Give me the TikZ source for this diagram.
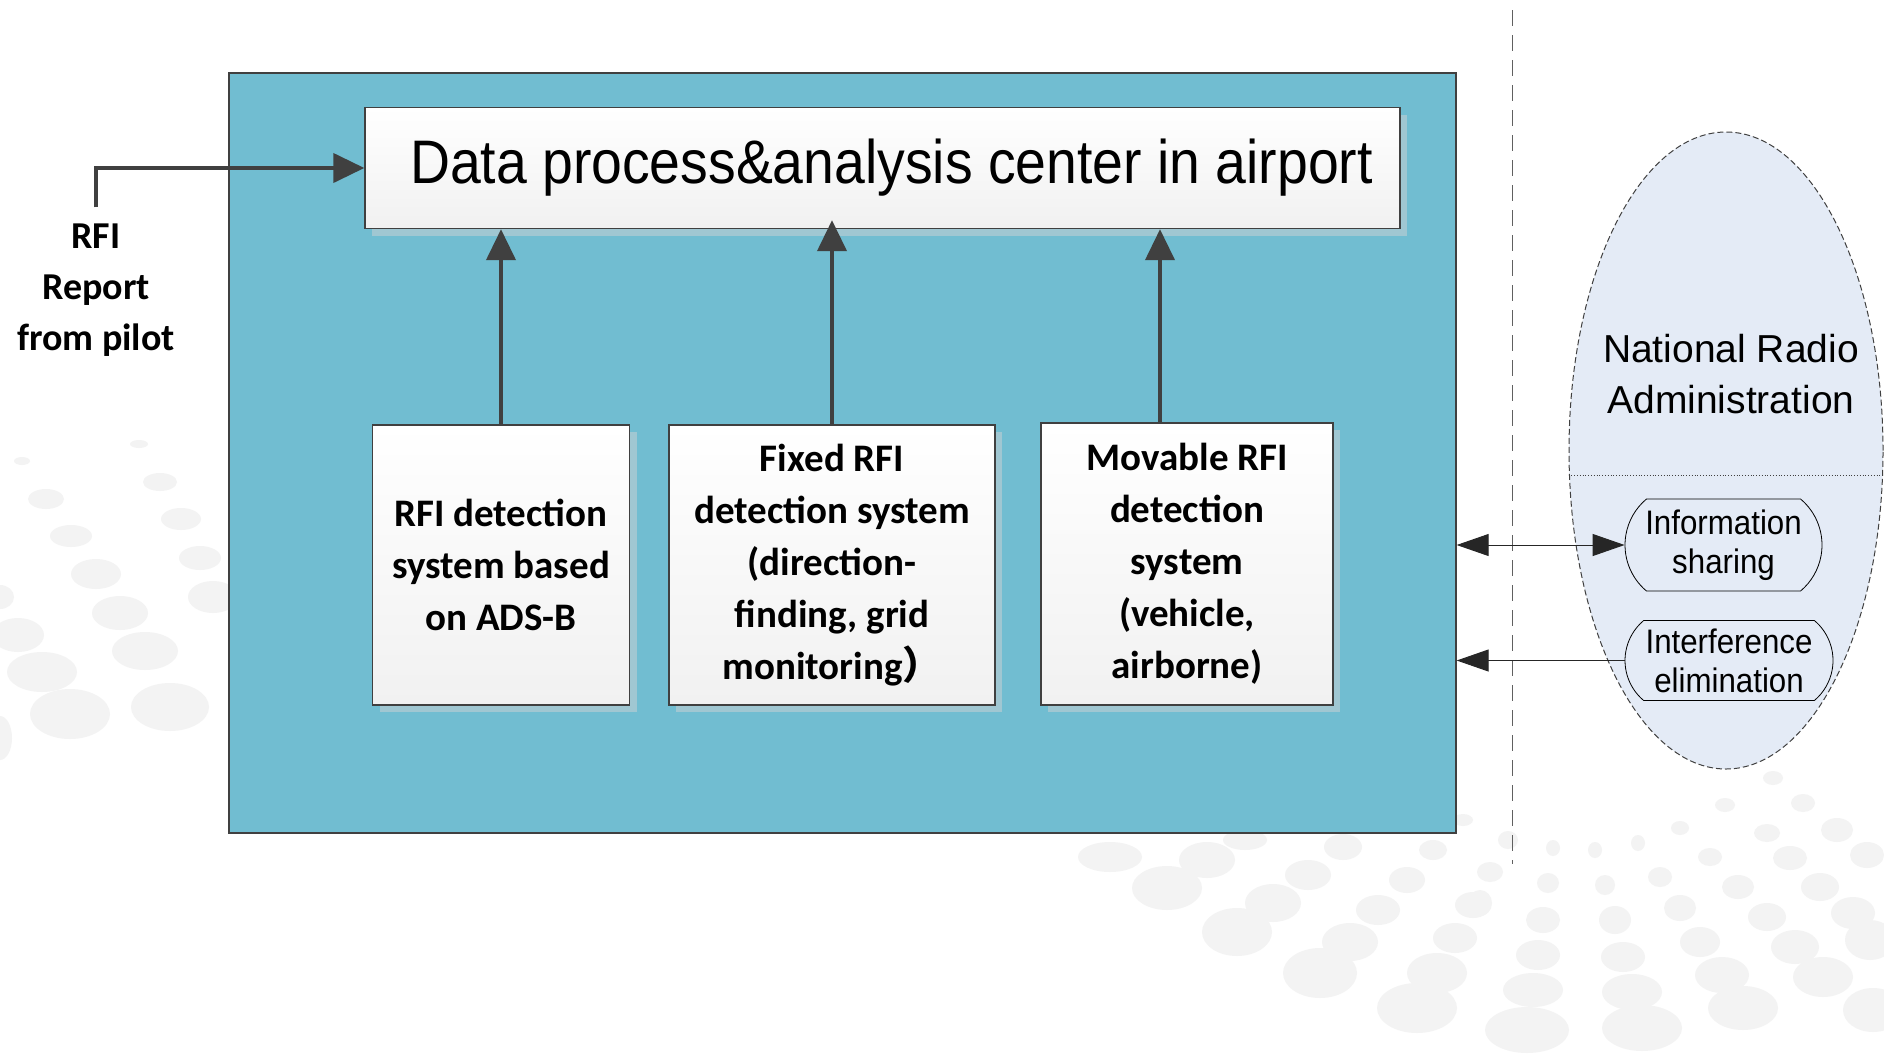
\documentclass[tikz,border=0pt]{standalone}
\usepackage{fontspec}
\setmainfont{Carlito}
\newfontfamily\arialfont{Liberation Sans}
\newfontfamily\narrowfont[FakeStretch=0.9]{Liberation Sans}
\newfontfamily\smallarial[FakeStretch=0.92]{Liberation Sans}
\newfontfamily\cjk{Noto Sans CJK SC}
\usetikzlibrary{shapes.geometric,shapes.misc,shadows,arrows.meta}

\definecolor{panelColor}{RGB}{113,189,209}
\definecolor{shadowColor}{RGB}{160,199,210}
\definecolor{lineColor}{RGB}{64,64,64}
\definecolor{nraColor}{RGB}{228,235,246}
\definecolor{dotColor}{RGB}{243,243,243}

\tikzset{
  sysbox/.style={rectangle,draw=lineColor,line width=1.3pt,top color=white,bottom color=gray!11,
    drop shadow={shadow xshift=7pt,shadow yshift=-7pt,fill=shadowColor,opacity=1},
    align=center,inner sep=0pt,font=\fontsize{39}{52}\selectfont\bfseries},
  upline/.style={draw=lineColor,line width=4pt,-{Triangle[length=31pt,width=29pt]}},
  linkline/.style={draw=black!85,line width=1pt},
  pointer/.tip={Triangle[length=32pt,width=22pt]},
  subbox/.style={rounded rectangle,rounded rectangle arc length=100,draw=black,line width=0.8pt,
    fill=nraColor,align=center,inner sep=0pt,font=\smallarial\fontsize{34}{39}\selectfont}
}

\begin{document}
\begin{tikzpicture}[x=1pt,y=-1pt]
\path[use as bounding box,fill=white] (0,0) rectangle (1884,1053);

\foreach \dx/\dy/\ra/\rb in {139/444/9/4, 22/461/8/4, 160/482/17/9, 46/499/18/10, 181/519/20/11, 71/536/21/11,
  200/558/21/12, 96/574/25/15, 213/597/25/16, 120/613/28/17, 145/651/33/19, 0/597/14/12, 18/635/26/17,
  42/672/35/20, 70/714/40/25, 170/707/39/24, 0/738/12/22,
  1110/857/32/15, 1207/860/28/18, 1167/888/35/22, 1245/840/22/10, 1343/847/19/13, 1308/875/23/15,
  1273/903/28/19, 1237/932/35/24, 1433/850/14/10, 1407/880/18/13, 1378/910/22/15, 1350/942/28/19,
  1320/973/37/25, 1417/1008/40/25, 1437/973/30/20, 1455/938/22/15, 1473/905/18/13, 1490/872/13/10,
  1508/840/10/9, 1463/820/10/6, 1480/903/12/13, 1548/883/11/10, 1605/885/10/10, 1660/877/12/10,
  1543/920/17/13, 1615/920/16/14, 1680/908/16/13, 1538/955/22/15, 1623/957/22/15, 1700/942/20/15,
  1533/990/30/17, 1632/992/30/18, 1722/975/27/18, 1527/1030/42/23, 1642/1028/40/23, 1743/1008/35/22,
  1823/977/30/20, 1795/947/24/17, 1820/887/19/14, 1790/858/17/12, 1767/833/13/9, 1738/887/16/12,
  1767/917/19/14, 1710/857/12/9, 1680/828/9/7, 1853/913/22/16, 1870/940/25/20, 1867/855/17/13,
  1837/830/16/12, 1803/803/12/9, 1773/778/10/7, 1725/805/10/7, 1638/843/7/8, 1595/850/7/8,
  1553/848/7/8, 1873/1010/30/22}
  \fill[dotColor] (\dx,\dy) ellipse [x radius=\ra pt,y radius=\rb pt];

\node[draw=lineColor,line width=1.3pt,fill=panelColor,minimum width=1227pt,minimum height=760pt,inner sep=0pt] (airport) at (842.5,453) {};

\node[sysbox,minimum width=1035pt,minimum height=121pt,font=\narrowfont\fontsize{61.5}{70}\selectfont] (center) at (882.5,168) {\hspace*{18pt}Data process\&analysis center in airport};

\node[sysbox,minimum width=257pt,minimum height=280pt] (adsb) at (501,565) {RFI detection\\system based\\on ADS-B};
\node[sysbox,minimum width=326pt,minimum height=280pt] (fixed) at (832,565) {Fixed RFI\\detection system\\(direction-\\finding, grid\\monitoring{\cjk ）}};
\node[sysbox,minimum width=292pt,minimum height=282pt] (movable) at (1187,564) {Movable RFI\\detection\\system\\(vehicle,\\airborne)};

\draw[upline] (adsb.north) -- (adsb.north |- center.south);
\draw[upline] (fixed.north) -- ([yshift=9pt]fixed.north |- center.south);
\draw[upline] ([xshift=-27pt]movable.north) -- ([xshift=-27pt]movable.north |- center.south);

\node[font=\fontsize{38}{51}\selectfont\bfseries,align=center,inner sep=0pt] (pilot) at (96,290) {RFI\\Report\\from pilot};
\draw[upline,shorten <=16pt] (pilot.north) |- (center.west);

\coordinate (septop) at (1512.7,10);
\coordinate (sepbot) at (1512.7,864);
\draw[draw=gray!75!black,line width=1.5pt,dash pattern=on 16pt off 9pt] (septop) -- (sepbot);

\node[ellipse,draw=lineColor,line width=1pt,dash pattern=on 6pt off 3pt,fill=nraColor,minimum width=314pt,minimum height=637pt,inner sep=0pt] (nra) at (1726,450.5) {};
\draw[draw=lineColor,line width=0.8pt,dotted] ([yshift=-24.5pt]nra.west) -- ([yshift=-24.5pt]nra.east);
\node[font=\arialfont\fontsize{39}{51}\selectfont,align=center,inner sep=0pt] (nralabel) at (1731,374.5) {National Radio\\Administration};

\node[subbox,minimum width=197pt,minimum height=92pt] (info) at (1723.5,545) {Information\\sharing};
\node[subbox,minimum width=208pt,minimum height=80pt] (interf) at (1729,660.5) {Interference\\elimination};

\draw[linkline,pointer-pointer] (airport.east |- info.west) -- (info.west);
\draw[linkline,-pointer] (interf.west) -- (airport.east |- interf.west);
\end{tikzpicture}
\end{document}
